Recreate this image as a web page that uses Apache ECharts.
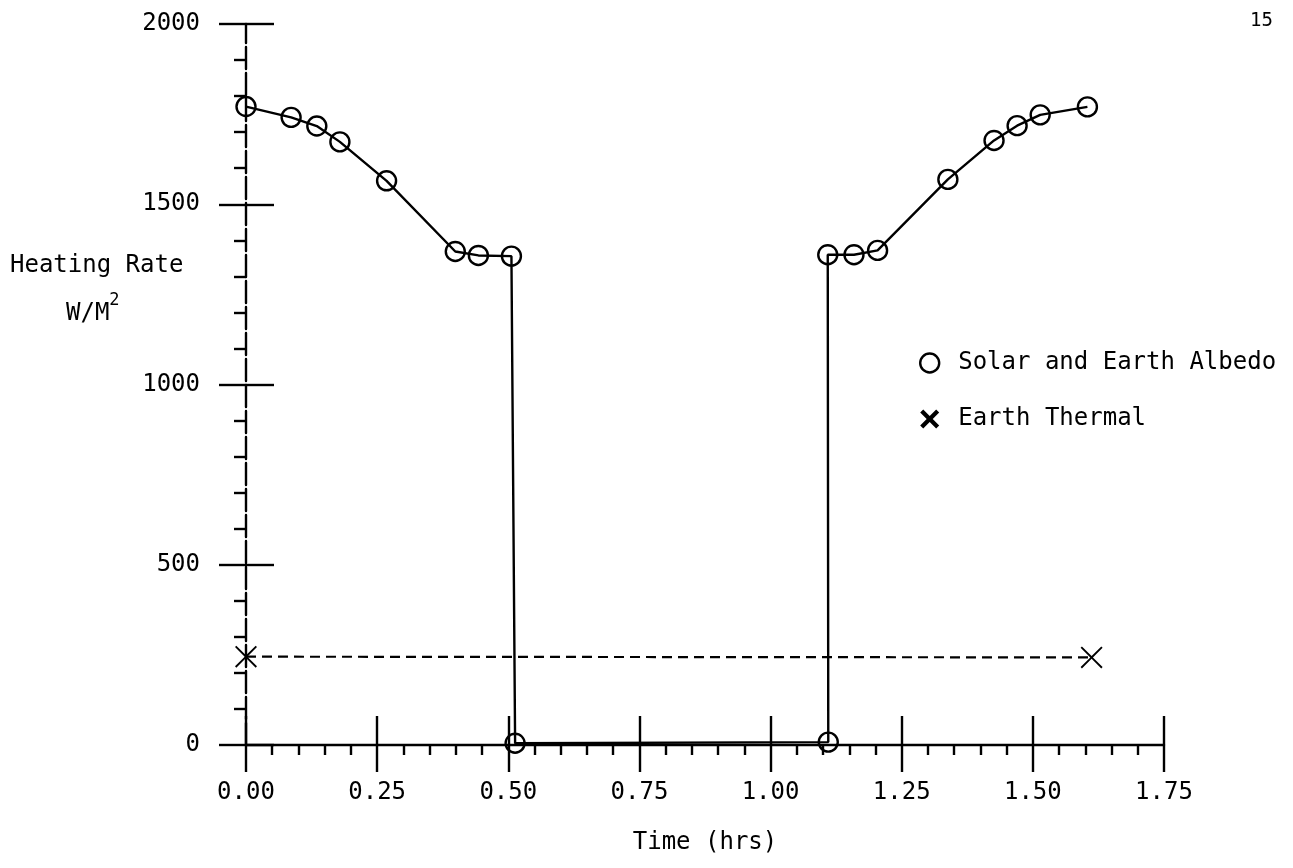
<!DOCTYPE html>
<html>
<head>
<meta charset="utf-8">
<title>Heating Rate</title>
<script src="https://cdn.jsdelivr.net/npm/echarts@6/dist/echarts.min.js"></script>
<style>
  html, body { margin: 0; padding: 0; background: #fff; }
  #main { width: 1293px; height: 868px; }
</style>
</head>
<body>
<div id="main"></div>
<script>
// 数据
var solarTime = [0, 0.086, 0.135, 0.179, 0.268, 0.399, 0.443, 0.506, 0.513, 1.110, 1.109, 1.159, 1.204, 1.338, 1.426, 1.470, 1.514, 1.604];
var solarRate = [1771, 1741, 1717, 1673, 1565, 1369, 1358, 1356, 5, 8, 1360, 1360, 1372, 1569, 1677, 1718, 1748, 1770];
var thermalTime = [0, 1.612];
var thermalRate = [245, 243];
var yTicks = [0, 500, 1000, 1500, 2000];
var xTicks = [0, 0.25, 0.5, 0.75, 1, 1.25, 1.5, 1.75];

var font = 'DejaVu Sans Mono';
var fs = 24;
// x marker drawn as filled polygon
var thinX = 'path://M0,0.6 L0.6,0 L5,4.4 L9.4,0 L10,0.6 L5.6,5 L10,9.4 L9.4,10 L5,5.6 L0.6,10 L0,9.4 L4.4,5 Z';
var boldX = 'path://M0,1.6 L1.6,0 L5,3.4 L8.4,0 L10,1.6 L6.6,5 L10,8.4 L8.4,10 L5,6.6 L1.6,10 L0,8.4 L3.4,5 Z';

function pairs(xs, ys) {
    var out = [];
    for (var i = 0; i < xs.length; i++) out.push([xs[i], ys[i]]);
    return out;
}

var chart = echarts.init(document.getElementById('main'), null, { renderer: 'canvas' });

var xBase = {
    type: 'value',
    min: xTicks[0],
    max: xTicks[xTicks.length - 1],
    interval: 0.25,
    position: 'bottom',
    splitLine: { show: false }
};
var yBase = {
    type: 'value',
    min: yTicks[0],
    max: yTicks[yTicks.length - 1],
    interval: 500,
    position: 'left',
    splitLine: { show: false }
};

var option = {
    backgroundColor: '#fff',
    animation: false,
    textStyle: { fontFamily: font, color: '#000' },
    grid: { left: 246, right: 129, top: 24, bottom: 123, containLabel: false },
    legend: {
        orient: 'vertical',
        left: 914,
        top: 346,
        itemGap: 32,
        itemWidth: 19,
        itemHeight: 19,
        selectedMode: false,
        textStyle: { fontFamily: font, fontSize: fs, color: '#000', padding: [0, 0, 0, 14] },
        data: [
            { name: 'Solar and Earth Albedo', icon: 'circle',
              itemStyle: { color: 'rgba(0,0,0,0)', borderColor: '#000', borderWidth: 2.4 } },
            { name: 'Earth Thermal', icon: boldX,
              itemStyle: { color: '#000', borderWidth: 0 } }
        ]
    },
    xAxis: [
        Object.assign({}, xBase, {
            name: 'Time (hrs)',
            nameLocation: 'middle',
            nameGap: 86,
            nameTextStyle: { fontFamily: font, fontSize: fs, color: '#000' },
            axisLine: { show: true, lineStyle: { color: '#000', width: 2.4 } },
            axisTick: { show: true, inside: false, length: 27, lineStyle: { color: '#000', width: 2.4 } },
            minorTick: { show: true, splitNumber: 5, length: 10, lineStyle: { color: '#000', width: 2.4 } },
            axisLabel: {
                margin: 36,
                fontFamily: font,
                fontSize: fs,
                color: '#000',
                formatter: function (v) { return v.toFixed(2); }
            }
        }),
        Object.assign({}, xBase, {
            axisLine: { show: false },
            axisTick: { show: true, inside: true, length: 29, lineStyle: { color: '#000', width: 2.4 } },
            axisLabel: { show: false }
        })
    ],
    yAxis: [
        Object.assign({}, yBase, {
            axisLine: { show: true, lineStyle: { color: '#000', width: 2.4, type: [22, 4] } },
            axisTick: { show: true, inside: false, length: 27, lineStyle: { color: '#000', width: 2.4 } },
            minorTick: { show: true, splitNumber: 5, length: 12, lineStyle: { color: '#000', width: 2.4 } },
            axisLabel: {
                margin: 46,
                fontFamily: font,
                fontSize: fs,
                color: '#000',
                formatter: function (v) { return String(v); }
            }
        }),
        Object.assign({}, yBase, {
            axisLine: { show: false },
            axisTick: { show: true, inside: true, length: 28, lineStyle: { color: '#000', width: 2.4 } },
            axisLabel: { show: false }
        })
    ],
    graphic: [
        {
            type: 'text', left: 10, top: 254,
            style: { text: 'Heating Rate', fontFamily: font, fontSize: fs, fill: '#000' }
        },
        {
            type: 'text', left: 66, top: 292,
            style: {
                text: '{a|W/M}{b|2}',
                fill: '#000',
                rich: {
                    a: { fontFamily: font, fontSize: fs, padding: [12, 0, 0, 0] },
                    b: { fontFamily: font, fontSize: 17, padding: [0, 0, 14, 0] }
                }
            }
        },
        {
            type: 'text', left: 1250, top: 12,
            style: { text: '15', fontFamily: font, fontSize: 19, fill: '#000' }
        }
    ],
    series: [
        {
            name: 'Solar and Earth Albedo',
            type: 'line',
            xAxisIndex: 0,
            yAxisIndex: 0,
            data: pairs(solarTime, solarRate),
            symbol: 'circle',
            symbolSize: 19,
            itemStyle: { color: 'rgba(0,0,0,0)', borderColor: '#000', borderWidth: 2.4 },
            lineStyle: { color: '#000', width: 2.4 },
            z: 3
        },
        {
            name: 'Earth Thermal',
            type: 'line',
            xAxisIndex: 0,
            yAxisIndex: 0,
            data: pairs(thermalTime, thermalRate),
            symbol: thinX,
            symbolSize: 22,
            itemStyle: { color: '#000' },
            lineStyle: { color: '#000', width: 2.2, type: [10, 6] },
            z: 3
        }
    ]
};

chart.setOption(option);
</script>
</body>
</html>
